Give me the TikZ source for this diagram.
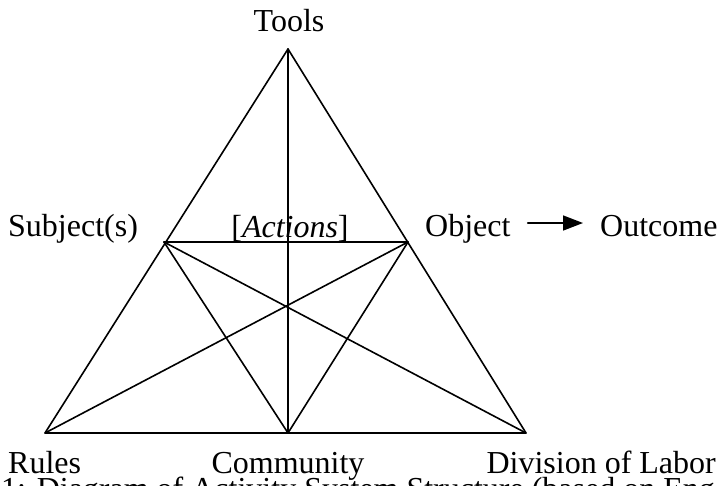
\documentclass[tikz,border=0pt]{standalone}
\usepackage{fontspec}
\setmainfont{Liberation Serif}
\usepackage{tikz}
\usetikzlibrary{arrows.meta, calc}

\begin{document}
\begin{tikzpicture}[x=1pt, y=-1pt, line cap=round, line join=round,
	edge/.style={black, line width=1.6pt},
	lbl/.style={inner sep=0pt, font=\fontsize{32}{34}\selectfont}]

	\useasboundingbox (0,0) rectangle (722,485);
	\clip (0,0) rectangle (722,485);

	% corners of the activity triangle
	\coordinate (T) at (288,49);
	\coordinate (S) at (164,242);
	\coordinate (O) at (408,242);
	\coordinate (R) at (45,433);
	\coordinate (C) at (288,433);
	\coordinate (D) at (526,433);

	\draw[edge] (T) -- (R) -- (D) -- cycle;
	\draw[edge] (T) -- (C);
	\draw[edge] (S) -- (O);
	\draw[edge] (S) -- (C) -- (O);
	\draw[edge] (S) -- (D);
	\draw[edge] (O) -- (R);

	\node[lbl, anchor=base] (tools) at (289,31) {Tools};
	\node[lbl, anchor=base west] (subject) at (8,236) {Subject(s)};
	\node[lbl, anchor=base] (actions) at (290,237) {[\textit{Actions}]};
	\node[lbl, anchor=base west] (object) at (425,236) {Object};
	\node[lbl, anchor=base west] (outcome) at (600,236) {Outcome};

	\draw[line width=1.6pt, -{Triangle[length=20pt, width=15pt]}] ([shift={(17pt,13pt)}]object.base east) -- ([shift={(-17pt,13pt)}]outcome.base west);

	\node[lbl, anchor=base west] (rules) at (8,473) {Rules};
	\node[lbl, anchor=base] (community) at (288,473) {Community};
	\node[lbl, anchor=base east] (labor) at (716,473) {Division of Labor};

	\node[lbl, anchor=base west] (caption) at (1,499) {1: Diagram of Activity System Structure (based on Eng};

\end{tikzpicture}
\end{document}
